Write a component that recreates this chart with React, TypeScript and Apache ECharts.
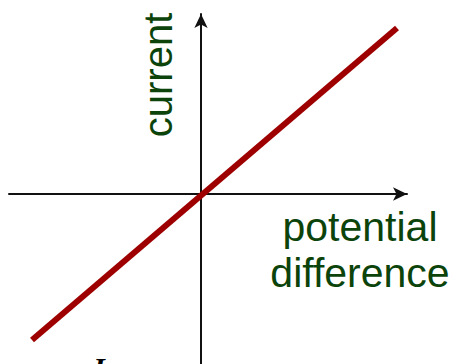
import React, { useEffect, useRef } from "react";
import * as echarts from "echarts";

const voltage = [-169, 196];
const current = [-146, 166];
const xRange = [-192, 206];
const yRange = [-170, 180];
const xLabelLines = ["potential", "difference"];
const yLabel = "current";
const cornerLabel = "I";

export default function App() {
  const ref = useRef<HTMLDivElement>(null);
  useEffect(() => {
    if (!ref.current) return;
    const chart = echarts.init(ref.current, null, { renderer: "svg" });
    const green = "#0b430b";
    const axisCommon = {
      type: "value" as const,
      axisLine: {
        show: true,
        onZero: true,
        symbol: ["none", "arrow"],
        symbolSize: [10, 14],
        lineStyle: { color: "#111", width: 2 },
      },
      axisTick: { show: false },
      axisLabel: { show: false },
      splitLine: { show: false },
    };
    chart.setOption({
      animation: false,
      backgroundColor: "#ffffff",
      grid: { left: 9, right: 457 - 407, top: 14, bottom: 0, containLabel: false },
      xAxis: { ...axisCommon, min: xRange[0], max: xRange[1] },
      yAxis: { ...axisCommon, min: yRange[0], max: yRange[1] },
      series: [
        {
          type: "line",
          data: voltage.map((v, i) => [v, current[i]]),
          symbol: "none",
          lineStyle: { color: "#9e0000", width: 6, cap: "butt" },
          z: 5,
        },
      ],
      graphic: [
        {
          type: "text",
          x: 158,
          y: 75,
          rotation: Math.PI / 2,
          style: {
            text: yLabel,
            fill: green,
            font: "40px 'Liberation Sans', Arial, sans-serif",
            align: "center",
            verticalAlign: "middle",
          },
        },
        ...xLabelLines.map((t, i) => ({
          type: "text",
          x: 360,
          y: 247 + i * 46,
          style: {
            text: t,
            fill: green,
            font: "41px 'Liberation Sans', Arial, sans-serif",
            align: "center",
            verticalAlign: "bottom",
          },
        })),
        {
          type: "text",
          x: 99,
          y: 352,
          style: {
            text: cornerLabel,
            fill: "#000",
            font: "italic bold 30px 'Liberation Serif', 'Times New Roman', serif",
            align: "center",
            verticalAlign: "top",
          },
        },
      ],
    });
    return () => chart.dispose();
  }, []);
  return (
    <div
      ref={ref}
      style={{ position: "fixed", left: 0, top: 0, width: 457, height: 364 }}
    />
  );
}
